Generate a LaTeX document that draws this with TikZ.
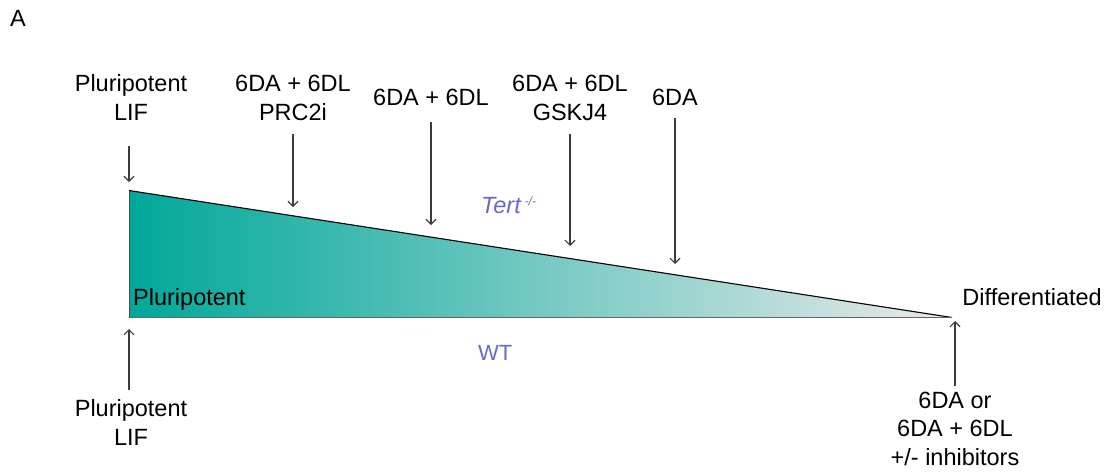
\documentclass[tikz,border=0pt]{standalone}
\usepackage{fontspec}
\setmainfont{Liberation Sans}
\usetikzlibrary{arrows.meta}
\definecolor{tealL}{RGB}{0,168,154}
\definecolor{grayR}{RGB}{234,234,234}
\definecolor{lblue}{RGB}{104,104,208}
\definecolor{arrgray}{RGB}{60,60,60}
\tikzset{
  lab/.style={font=\fontsize{23.5}{28.5}\selectfont, align=center, inner sep=0pt, anchor=base},
  arr/.style={draw=arrgray, line width=1.1pt, -{Straight Barb[length=5pt,width=10pt]}},
  bluelab/.style={font=\fontsize{23.5}{28}\selectfont, text=lblue, inner sep=0pt, anchor=base west}
}
\begin{document}
\begin{tikzpicture}[x=1pt,y=-1pt]
\useasboundingbox (0,0) rectangle (1111,472);
% triangle
\coordinate (tl) at (129,190.5);
\coordinate (bl) at (129,317.5);
\coordinate (tip) at (952,317.5);
\shade[left color=tealL, right color=grayR] (tl) -- (tip) -- (bl) -- cycle;
\draw[black, line width=1.1pt] (tl) -- (tip);
\draw[gray!80!black, line width=1.6pt] (bl) -- (tip);
\draw[black!70, line width=0.6pt] (bl) -- (tl);

\node[lab, anchor=base west] (A) at (10,26) {A};

% top labels (base = baseline of last line)
\node[lab] (t0) at (131,120) {Pluripotent\\LIF};
\node[lab] (t1) at (293,120) {6DA + 6DL\\PRC2i};
\node[lab] (t2) at (431,105) {6DA + 6DL};
\node[lab] (t3) at (570,120) {6DA + 6DL\\GSKJ4};
\node[lab] (t4) at (675,105) {6DA};

\coordinate (s0) at (129,146);
\coordinate (s1) at (293,134);
\coordinate (s2) at (431,122);
\coordinate (s3) at (570,134);
\coordinate (s4) at (675,118);
\coordinate (e0) at (129,182);
\coordinate (e1) at (293,207);
\coordinate (e2) at (431,225);
\coordinate (e3) at (570,246);
\coordinate (e4) at (675,264);
\draw[arr] (s0) -- (e0);
\draw[arr] (s1) -- (e1);
\draw[arr] (s2) -- (e2);
\draw[arr] (s3) -- (e3);
\draw[arr] (s4) -- (e4);

% inside labels
\node[lab, anchor=base west] (pl) at (133,305) {Pluripotent};
\node[lab, anchor=base east] (df) at (1102,305) {Differentiated};
\node[bluelab] (tert) at (481,213) {\itshape Tert\,\raisebox{8pt}{\fontsize{12}{12}\selectfont -/-}};
\node[bluelab, font=\fontsize{22}{26}\selectfont] (wt) at (478,360) {WT};

% bottom labels
\node[lab] (b0) at (131,445) {Pluripotent\\LIF};
\node[lab] (b1) at (955,465) {6DA or\\6DA + 6DL\\+/- inhibitors};
\coordinate (u0s) at (129,390);
\coordinate (u0e) at (129,329);
\coordinate (u1s) at (955,386);
\coordinate (u1e) at (955,321);
\draw[arr] (u0s) -- (u0e);
\draw[arr] (u1s) -- (u1e);
\end{tikzpicture}
\end{document}
